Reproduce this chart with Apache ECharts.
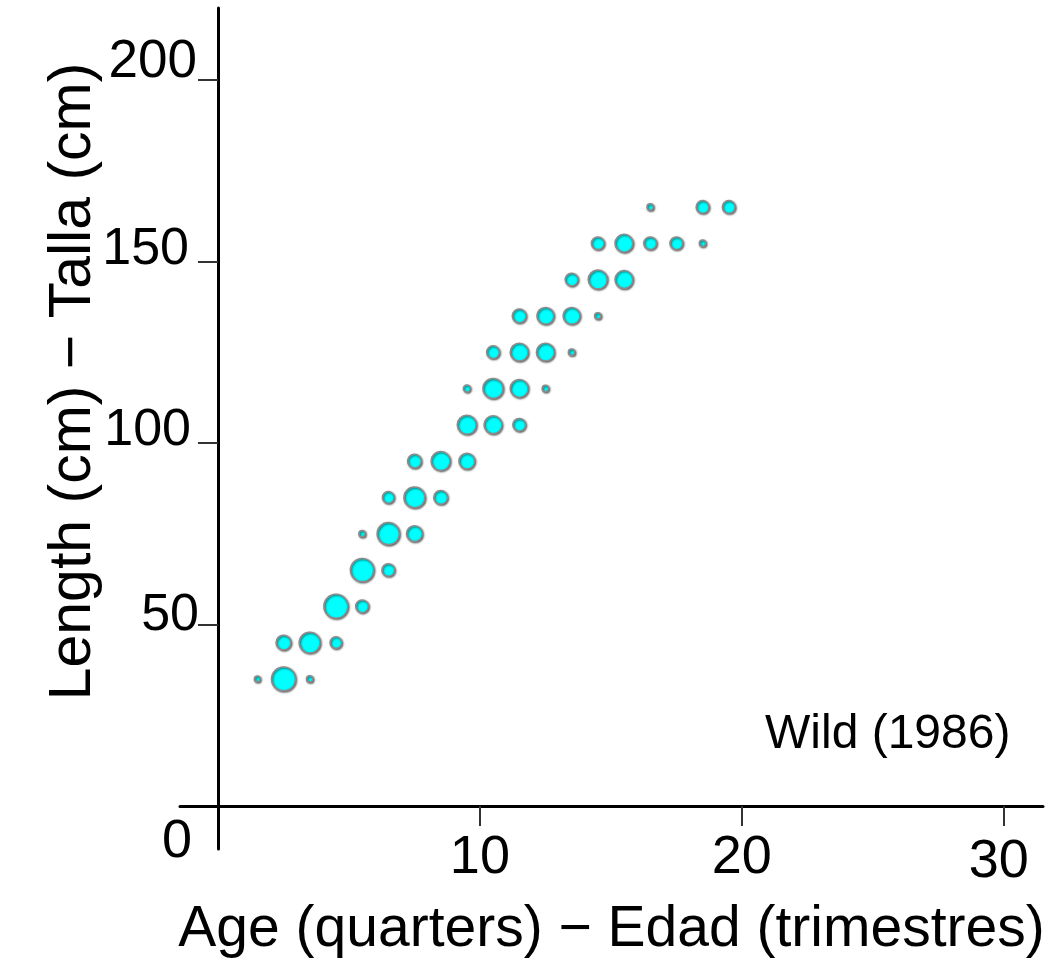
<!DOCTYPE html>
<html>
<head>
<meta charset="utf-8">
<script src="https://cdn.jsdelivr.net/npm/echarts@6/dist/echarts.min.js"></script>
<style>
html,body{margin:0;padding:0;background:#fff;}
#chart{width:1059px;height:962px;}
</style>
</head>
<body>
<div id="chart"></div>
<script>
// Length class mid-points (cm)
const lengthClasses = [35, 45, 55, 65, 75, 85, 95, 105, 115, 125, 135, 145, 155, 165];
// Ages (quarters) observed in each length class
const agesByClass = [
  [1.5, 2.5, 3.5],
  [2.5, 3.5, 4.5],
  [4.5, 5.5],
  [5.5, 6.5],
  [5.5, 6.5, 7.5],
  [6.5, 7.5, 8.5],
  [7.5, 8.5, 9.5],
  [9.5, 10.5, 11.5],
  [9.5, 10.5, 11.5, 12.5],
  [10.5, 11.5, 12.5, 13.5],
  [11.5, 12.5, 13.5, 14.5],
  [13.5, 14.5, 15.5],
  [14.5, 15.5, 16.5, 17.5, 18.5],
  [16.5, 18.5, 19.5]
];
// Relative frequency of each age within the length class
const freqByClass = [
  [1, 17, 1.2],
  [6.5, 13, 4],
  [17, 4.8],
  [16, 4.8],
  [1.2, 14.6, 7.4],
  [4, 13, 5.6],
  [5.6, 10.7, 7.4],
  [10.7, 9.5, 4.8],
  [1.4, 12, 9.5, 1.2],
  [4.8, 9.5, 9.5, 1.2],
  [5.6, 8.5, 8.5, 1.2],
  [4.8, 10.7, 9.5],
  [4.8, 9.5, 4.8, 4.8, 1.2],
  [1.2, 4.8, 4.8]
];
const xTickValues = [0, 10, 20, 30];
const yTickValues = [50, 100, 150, 200];
const xTitle = 'Age (quarters) \u2212 Edad (trimestres)';
const yTitle = 'Length (cm) \u2212 Talla (cm)';
const noteText = 'Wild (1986)';

const points = [];
lengthClasses.forEach((len, i) => {
  agesByClass[i].forEach((age, j) => {
    points.push([age, len, freqByClass[i][j]]);
  });
});

const FONT = "'Liberation Sans', Arial, sans-serif";
const chart = echarts.init(document.getElementById('chart'), null, {renderer: 'canvas'});

const xRich = {
  l0: {padding: [2, 82, 0, 0], fontSize: 54, fontFamily: FONT, color: '#000'},
  l10: {padding: [18, 0, 0, 0], fontSize: 54, fontFamily: FONT, color: '#000'},
  l20: {padding: [18, 0, 0, 0], fontSize: 54, fontFamily: FONT, color: '#000'},
  l30: {padding: [22, 10, 0, 0], fontSize: 54, fontFamily: FONT, color: '#000'}
};
const yRich = {
  l50: {padding: [0, 0, 18, 0], fontSize: 52, fontFamily: FONT, color: '#000'},
  l100: {padding: [0, 8, 24, 0], fontSize: 52, fontFamily: FONT, color: '#000'},
  l150: {padding: [0, 10, 24, 0], fontSize: 52, fontFamily: FONT, color: '#000'},
  l200: {padding: [0, 2, 34, 0], fontSize: 53, fontFamily: FONT, color: '#000'}
};

chart.setOption({
  backgroundColor: '#fff',
  animation: false,
  title: {
    text: noteText,
    left: 765,
    top: 711,
    padding: 0,
    textStyle: {fontSize: 48, fontWeight: 'normal', fontFamily: FONT, color: '#000'}
  },
  grid: {left: 180, right: 16, top: 8, bottom: 113, containLabel: false, outerBoundsMode: 'none'},
  xAxis: {
    type: 'value',
    min: -1.45,
    max: 31.5,
    name: xTitle,
    nameLocation: 'middle',
    nameGap: 53,
    nameMoveOverlap: false,
    nameTextStyle: {fontSize: 57, fontFamily: FONT, color: '#000'},
    axisLine: {onZero: true, lineStyle: {color: '#000', width: 3}},
    axisTick: {show: true, customValues: [10, 20, 30], length: 20, lineStyle: {color: '#333', width: 2}},
    axisLabel: {
      customValues: xTickValues,
      margin: -36,
      formatter: v => '{l' + v + '|' + v + '}',
      rich: xRich
    },
    splitLine: {show: false}
  },
  yAxis: {
    type: 'value',
    min: -11.85,
    max: 219.8,
    name: yTitle,
    nameLocation: 'middle',
    nameGap: 77,
    nameRotate: 90,
    nameMoveOverlap: false,
    nameTextStyle: {fontSize: 59, fontFamily: FONT, color: '#000', padding: [0, 0, 0, 94]},
    axisLine: {onZero: true, lineStyle: {color: '#000', width: 3}},
    axisTick: {show: true, customValues: yTickValues, length: 20, lineStyle: {color: '#333', width: 2}},
    axisLabel: {
      customValues: yTickValues,
      margin: -19,
      formatter: v => '{l' + v + '|' + v + '}',
      rich: yRich
    },
    splitLine: {show: false}
  },
  series: [{
    type: 'scatter',
    data: points,
    symbol: 'circle',
    symbolSize: d => 5.8 * Math.sqrt(d[2]),
    itemStyle: {
      color: '#00FFFF',
      opacity: 1,
      borderColor: '#8c8c8c',
      borderWidth: 1.5,
      shadowColor: 'rgba(0,0,0,0.55)',
      shadowBlur: 2,
      shadowOffsetX: 1,
      shadowOffsetY: 1
    },
    emphasis: {disabled: true}
  }]
});
</script>
</body>
</html>
